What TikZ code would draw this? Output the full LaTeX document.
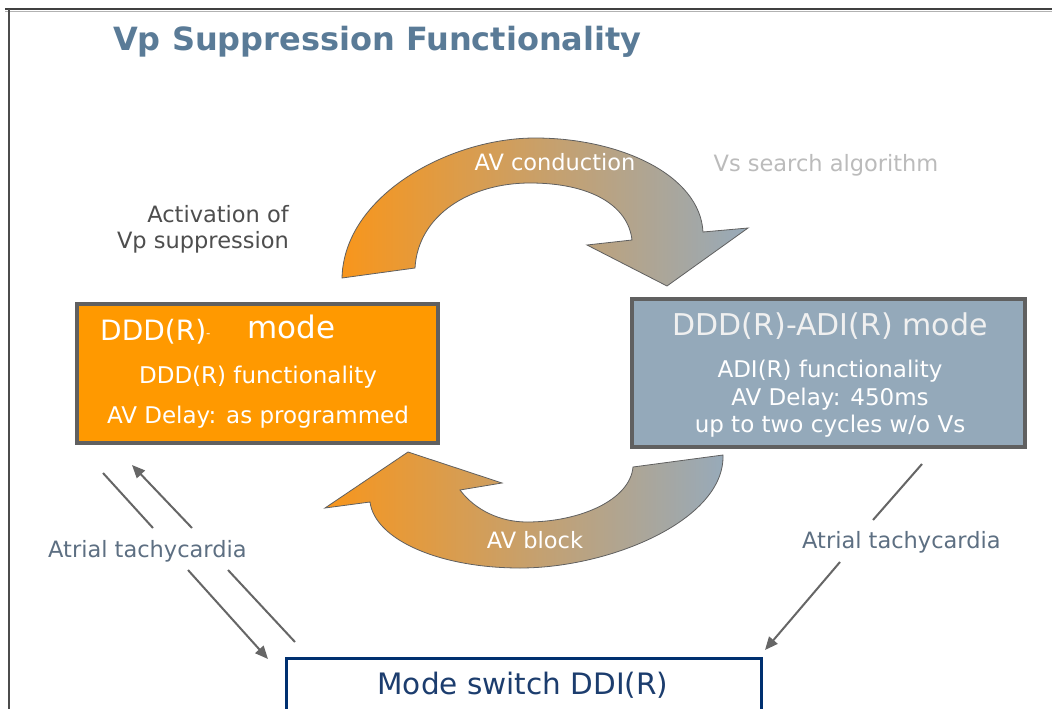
\documentclass[tikz,border=0pt]{standalone}
\usepackage{fontspec}
\setmainfont{DejaVu Sans}
\usetikzlibrary{arrows.meta}
\definecolor{orng}{HTML}{FF9900}
\definecolor{arrorng}{HTML}{F8961C}
\definecolor{bgray}{HTML}{94A9BA}
\definecolor{arrgray}{HTML}{97AABA}
\definecolor{midpink}{HTML}{D4A797}
\definecolor{boxborder}{HTML}{606060}
\definecolor{navy}{HTML}{003070}
\definecolor{navytext}{HTML}{1C3D6E}
\definecolor{titleblue}{HTML}{5A7B97}
\definecolor{labelblue}{HTML}{5D6F82}
\definecolor{lightlabel}{HTML}{BBBBBB}
\definecolor{darklabel}{HTML}{4E4E4E}
\definecolor{linegray}{HTML}{666666}
\tikzset{
  modebox/.style={draw=boxborder, line width=4pt, minimum width=#1, outer sep=0pt, inner sep=0pt},
  boxtext/.style={text=white, font=\fontsize{23}{27}\selectfont, anchor=base},
  plainlabel/.style={font=\fontsize{22.5}{26}\selectfont, anchor=base},
  bigarrow/.style={draw=boxborder, line width=0.8pt},
  conn/.style={draw=linegray, line width=2pt},
  connarrow/.style={conn, -{Triangle[length=13pt,width=11pt]}}
}
\begin{document}
\begin{tikzpicture}[x=1pt,y=-1pt]
\useasboundingbox (0,0) rectangle (1052,709);
\fill[white] (0,0) rectangle (1052,709);
% frame
\draw[line width=2pt, black!75] (5,9.5) -- (1052,9.5);
\draw[line width=1pt, black!30] (5,11.5) -- (1052,11.5);
\draw[line width=2pt, black!70] (9,9) -- (9,709);
% title
\node[anchor=base west, inner sep=0pt, text=titleblue, font=\bfseries\fontsize{32}{38}\selectfont] (title) at (113,51) {Vp Suppression Functionality};
% top curved arrow
\path[bigarrow, left color=arrorng, middle color=midpink, right color=arrgray]
  (342,278) .. controls (344,195) and (450,138) .. (535,138)
  .. controls (620,138) and (700,175) .. (703,232)
  -- (748,228) -- (667,286) -- (587,245) -- (632,240)
  .. controls (628,205) and (590,183) .. (530,183)
  .. controls (470,183) and (418,215) .. (415,268) -- cycle;
% bottom curved arrow
\path[bigarrow, left color=arrorng, middle color=midpink, right color=arrgray]
  (723,455) .. controls (725,520) and (610,568) .. (520,568)
  .. controls (440,568) and (375,540) .. (370,502)
  -- (325,508) -- (408,452) -- (502,483) -- (460,490)
  .. controls (475,510) and (500,522) .. (527,522)
  .. controls (580,522) and (630,500) .. (633,467) -- cycle;
\node[plainlabel, text=white] (avc) at (555,170) {AV conduction};
\node[plainlabel, text=white] (avb) at (535,548) {AV block};
\node[plainlabel, text=lightlabel] (vss) at (826,171) {Vs search algorithm};
\node[plainlabel, anchor=base east, inner sep=0pt, text=darklabel] (act1) at (289,222) {Activation of};
\node[plainlabel, anchor=base east, inner sep=0pt, text=darklabel] (act2) at (289,248) {Vp suppression};
% left box
\node[modebox=361pt, minimum height=139pt, fill=orng] (ddd) at (257.5,373.5) {};
\node[anchor=base west, inner sep=0pt, text=white, font=\fontsize{28}{32}\selectfont] (dddt) at (100,340) {DDD(R)\raisebox{3pt}{\fontsize{12}{12}\selectfont -}};
\node[anchor=base west, inner sep=0pt, text=white, font=\fontsize{31}{34}\selectfont] (dddm) at (247,338) {mode};
\node[boxtext] (ddd1) at (258,383) {DDD(R) functionality};
\node[boxtext] (ddd2) at (258,423) {AV Delay: as programmed};
% right box
\node[modebox=393pt, minimum height=148pt, fill=bgray] (adi) at (828.5,373) {};
\node[anchor=base, text=white!94!black, font=\fontsize{30}{34}\selectfont] (adit) at (830,335) {DDD(R)-ADI(R) mode};
\node[boxtext] (adi1) at (830,377) {ADI(R) functionality};
\node[boxtext] (adi2) at (830,405) {AV Delay: 450ms};
\node[boxtext] (adi3) at (830,432) {up to two cycles w/o Vs};
% bottom box
\node[draw=navy, line width=3pt, fill=white, minimum width=475pt, minimum height=62pt, outer sep=0pt] (ms) at (524,689.5) {};
\node[anchor=base, text=navytext, font=\fontsize{29.5}{33}\selectfont] (mst) at (523,694) {Mode switch DDI(R)};
% connector labels
\node[plainlabel, anchor=base west, inner sep=0pt, text=labelblue] (atl) at (48,557) {Atrial tachycardia};
\node[plainlabel, anchor=base west, inner sep=0pt, text=labelblue] (atr) at (802,548) {Atrial tachycardia};
% connector coordinates
\coordinate (la1) at (103,473); \coordinate (la2) at (153,528);
\coordinate (la3) at (188,570); \coordinate (la4) at (268,659);
\coordinate (lb1) at (295,642); \coordinate (lb2) at (228,570);
\coordinate (lb3) at (192,528); \coordinate (lb4) at (132,465);
\coordinate (ra1) at (922,464); \coordinate (ra2) at (873,520);
\coordinate (ra3) at (840,562); \coordinate (ra4) at (765,650);
\draw[conn] (la1) -- (la2);
\draw[connarrow] (la3) -- (la4);
\draw[conn] (lb1) -- (lb2);
\draw[connarrow] (lb3) -- (lb4);
\draw[conn] (ra1) -- (ra2);
\draw[connarrow] (ra3) -- (ra4);
\end{tikzpicture}
\end{document}
